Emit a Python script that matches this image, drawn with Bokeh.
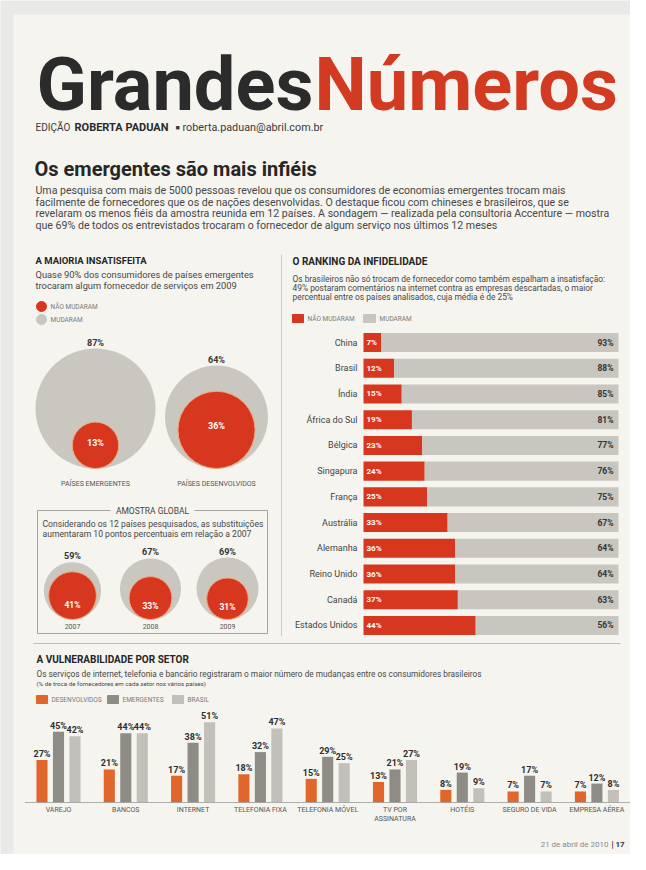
import math
from bokeh.plotting import figure
from bokeh.models import Range1d, ColumnDataSource
from bokeh.core.properties import value
from bokeh.transform import dodge
from bokeh.embed import file_html
from bokeh.resources import INLINE

# ---------------- data ----------------
maioria_groups = ["PAÍSES EMERGENTES", "PAÍSES DESENVOLVIDOS"]
maioria_mudaram = [87, 64]
maioria_nao_mudaram = [13, 36]

global_years = ["2007", "2008", "2009"]
global_mudaram = [59, 67, 69]
global_nao_mudaram = [41, 33, 31]

ranking_countries = ["China", "Brasil", "Índia", "África do Sul", "Bélgica", "Singapura",
                     "França", "Austrália", "Alemanha", "Reino Unido", "Canadá", "Estados Unidos"]
ranking_nao_mudaram = [7, 12, 15, 19, 23, 24, 25, 33, 36, 36, 37, 44]
ranking_mudaram = [93, 88, 85, 81, 77, 76, 75, 67, 64, 64, 63, 56]

setores = ["VAREJO", "BANCOS", "INTERNET", "TELEFONIA FIXA", "TELEFONIA MÓVEL",
           "TV POR\nASSINATURA", "HOTÉIS", "SEGURO DE VIDA", "EMPRESA AÉREA"]
setor_desenvolvidos = [27, 21, 17, 18, 15, 13, 8, 7, 7]
setor_emergentes = [45, 44, 38, 32, 29, 21, 19, 17, 12]
setor_brasil = [42, 44, 51, 47, 25, 27, 9, 7, 8]

# ---------------- style ----------------
FONT = "Roboto"
PAPER = "#f5f4ef"
OUTER = "#e9e9e8"
DARK = "#262626"
BODY = "#474747"
LIGHT = "#7a7a7a"
RED = "#d7371f"
TITLE_RED = "#d33a22"
GRAY_C = "#cac7c1"
GRAY_BAR = "#c9c5bf"
ORANGE = "#e0662b"
EMERG = "#8f8b85"
BRASIL = "#c3c0ba"

p = figure(width=630, height=854, x_range=Range1d(0, 630), y_range=Range1d(854, 0),
           x_axis_location=None, y_axis_location=None, toolbar_location=None,
           output_backend="svg", min_border=0)
p.grid.visible = False
p.outline_line_color = None
p.background_fill_color = OUTER
p.border_fill_color = OUTER

# paper
p.quad(left=13, right=641, top=14, bottom=866, fill_color=PAPER, line_color=None)


def T(x, y, s, size, color=DARK, bold=False, align="left", baseline="middle", tgt=None):
    (tgt or p).text(x=[x], y=[y], text=[s], text_font=value(FONT),
                    text_font_size=f"{size}px",
                    text_font_style="bold" if bold else "normal",
                    text_color=color, text_align=align, text_baseline=baseline)


# ---------------- header ----------------
T(313, 84, "Grandes", 74, "#2b2b2b", True, "right")
T(314, 84, "Números", 74, TITLE_RED, True, "left")

T(35, 127, "EDIÇÃO", 10, "#3a3a3a")
T(74, 127, "ROBERTA PADUAN", 11, "#2a2a2a", True)
T(175, 127, "■", 7, "#3a3a3a")
T(182, 127, "roberta.paduan@abril.com.br", 10.8, "#3a3a3a")

T(34, 168, "Os emergentes são mais infiéis", 20, DARK, True)
body_lines = [
    "Uma pesquisa com mais de 5000 pessoas revelou que os consumidores de economias emergentes trocam mais",
    "facilmente de fornecedores que os de nações desenvolvidas. O destaque ficou com chineses e brasileiros, que se",
    "revelaram os menos fiéis da amostra reunida em 12 países. A sondagem — realizada pela consultoria Accenture — mostra",
    "que 69% de todos os entrevistados trocaram o fornecedor de algum serviço nos últimos 12 meses",
]
for i, ln in enumerate(body_lines):
    T(35, 190 + 11.5 * i, ln, 10.6, BODY)

# ---------------- left: a maioria insatisfeita ----------------
T(35, 260, "A MAIORIA INSATISFEITA", 9.5, DARK, True)
T(35, 274, "Quase 90% dos consumidores de países emergentes", 9.3, BODY)
T(35, 285, "trocaram algum fornecedor de serviços em 2009", 9.3, BODY)
p.scatter(x=[41], y=[306], size=10, color=RED)
T(50, 306, "NÃO MUDARAM", 6.5, LIGHT)
p.scatter(x=[41], y=[319], size=10, color=GRAY_C)
T(50, 319, "MUDARAM", 6.5, LIGHT)

K1 = 60 / math.sqrt(87)
maioria_x = [95, 216]
B1 = 468
ro = [K1 * math.sqrt(v) for v in maioria_mudaram]
ri = [K1 * math.sqrt(v) for v in maioria_nao_mudaram]
src1 = ColumnDataSource(dict(
    x=maioria_x, ro=ro, ri=ri,
    yo=[B1 - r for r in ro], yi=[B1 - r for r in ri],
    ytop=[B1 - 2 * r - 6 for r in ro], yin=[B1 - r * 1.1 for r in ri],
    lo=[f"{v}%" for v in maioria_mudaram], li=[f"{v}%" for v in maioria_nao_mudaram],
    g=maioria_groups))
p.circle(x="x", y="yo", radius="ro", source=src1, fill_color=GRAY_C, line_color=None)
p.circle(x="x", y="yi", radius="ri", source=src1, fill_color=RED, line_color="#f2a77e", line_width=1)
p.text(x="x", y="ytop", text="lo", source=src1, text_font=value(FONT), text_font_size="9px",
       text_font_style="bold", text_color="#333333", text_align="center", text_baseline="middle")
p.text(x="x", y="yin", text="li", source=src1, text_font=value(FONT), text_font_size="9px",
       text_font_style="bold", text_color="#ffffff", text_align="center", text_baseline="middle")
p.text(x="x", y=483, text="g", source=src1, text_font=value(FONT), text_font_size="7px",
       text_color="#555555", text_align="center", text_baseline="middle")

# amostra global box
p.multi_line(xs=[[110, 37, 37, 267, 267, 194]], ys=[[510, 510, 633, 633, 510, 510]],
             line_color="#a3a3a3", line_width=1)
T(152, 510, "AMOSTRA GLOBAL", 8.5, "#444444", False, "center")
T(42, 523, "Considerando os 12 países pesquisados, as substituições", 8.6, BODY)
T(42, 533, "aumentaram 10 pontos percentuais em relação a 2007", 8.6, BODY)

K2 = 31 / math.sqrt(69)
global_x = [72, 150, 227]
B2 = 619
go = [K2 * math.sqrt(v) for v in global_mudaram]
gi = [K2 * math.sqrt(v) for v in global_nao_mudaram]
src2 = ColumnDataSource(dict(
    x=global_x, ro=go, ri=gi,
    yo=[B2 - r for r in go], yi=[B2 - r for r in gi],
    ytop=[B2 - 2 * r - 6 for r in go], yin=[B2 - r * 0.62 for r in gi],
    lo=[f"{v}%" for v in global_mudaram], li=[f"{v}%" for v in global_nao_mudaram],
    g=global_years))
p.circle(x="x", y="yo", radius="ro", source=src2, fill_color=GRAY_C, line_color=None)
p.circle(x="x", y="yi", radius="ri", source=src2, fill_color=RED, line_color="#f2a77e", line_width=1)
p.text(x="x", y="ytop", text="lo", source=src2, text_font=value(FONT), text_font_size="9px",
       text_font_style="bold", text_color="#333333", text_align="center", text_baseline="middle")
p.text(x="x", y="yin", text="li", source=src2, text_font=value(FONT), text_font_size="8.5px",
       text_font_style="bold", text_color="#ffffff", text_align="center", text_baseline="middle")
p.text(x="x", y=626, text="g", source=src2, text_font=value(FONT), text_font_size="7px",
       text_color="#555555", text_align="center", text_baseline="middle")

# divider
p.segment(x0=[281], y0=[254], x1=[281], y1=[636], line_color="#cdcdcd", line_width=1)

# ---------------- right: ranking ----------------
T(292, 261, "O RANKING DA INFIDELIDADE", 10, DARK, True)
T(292, 278, "Os brasileiros não só trocam de fornecedor como também espalham a insatisfação:", 8.4, BODY)
T(292, 287, "49% postaram comentários na internet contra as empresas descartadas, o maior", 8.4, BODY)
T(292, 296, "percentual entre os países analisados, cuja média é de 25%", 8.4, BODY)
p.quad(left=[292], right=[303], top=[314], bottom=[322], color=RED)
T(307, 318, "NÃO MUDARAM", 6.5, LIGHT)
p.quad(left=[363], right=[375], top=[314], bottom=[322], color=GRAY_BAR)
T(379, 318, "MUDARAM", 6.5, LIGHT)

n = len(ranking_countries)
rank = p.subplot(x_source=Range1d(0, 100), y_source=Range1d(-0.5, n - 0.5),
                 x_target=Range1d(363, 618), y_target=Range1d(329.14, 637.86))
src3 = ColumnDataSource(dict(
    idx=list(range(n)), country=ranking_countries,
    nao=ranking_nao_mudaram,
    end=[a + b for a, b in zip(ranking_nao_mudaram, ranking_mudaram)],
    ln=[f"{v}%" for v in ranking_nao_mudaram], lm=[f"{v}%" for v in ranking_mudaram]))
rank.hbar(y="idx", left=0, right="nao", height=0.74, source=src3, fill_color=RED,
          line_color=None)
rank.hbar(y="idx", left="nao", right="end", height=0.74, source=src3, fill_color=GRAY_BAR,
          line_color=None)
rank.text(x=0, y="idx", text="country", source=src3, x_offset=-6, text_font=value(FONT),
          text_font_size="9px", text_color="#444444", text_align="right", text_baseline="middle")
rank.text(x=0, y="idx", text="ln", source=src3, x_offset=3, text_font=value(FONT),
          text_font_size="8px", text_font_style="bold", text_color="#ffffff",
          text_align="left", text_baseline="middle")
rank.text(x="end", y="idx", text="lm", source=src3, x_offset=-5, text_font=value(FONT),
          text_font_size="8.5px", text_font_style="bold", text_color="#333333",
          text_align="right", text_baseline="middle")

# ---------------- bottom: vulnerabilidade ----------------
p.segment(x0=[33], y0=[643], x1=[620], y1=[643], line_color="#bdbdbd", line_width=1)
T(36, 659, "A VULNERABILIDADE POR SETOR", 10, DARK, True)
T(36, 673, "Os serviços de internet, telefonia e bancário registraram o maior número de mudanças entre os consumidores brasileiros", 8.3, BODY)
T(36, 683, "(% de troca de fornecedores em cada setor nos vários países)", 6.2, BODY)
p.quad(left=[36], right=[47], top=[695], bottom=[703], color=ORANGE)
T(51, 699, "DESENVOLVIDOS", 6.5, LIGHT)
p.quad(left=[107], right=[118], top=[695], bottom=[703], color=EMERG)
T(122, 699, "EMERGENTES", 6.5, LIGHT)
p.quad(left=[172], right=[183], top=[695], bottom=[703], color=BRASIL)
T(187, 699, "BRASIL", 6.5, LIGHT)

m = len(setores)
sec = p.subplot(x_source=Range1d(-0.5, m - 0.5), y_source=Range1d(0, 100),
                x_target=Range1d(24.35, 630.05), y_target=Range1d(802, 644.5))
src4 = ColumnDataSource(dict(
    i=list(range(m)), setor=setores,
    d=setor_desenvolvidos, e=setor_emergentes, b=setor_brasil,
    ld=[f"{v}%" for v in setor_desenvolvidos], le=[f"{v}%" for v in setor_emergentes],
    lb=[f"{v}%" for v in setor_brasil]))
OFF = 0.245
W = 0.165
for col, lab, off, color in [("d", "ld", -OFF, ORANGE), ("e", "le", 0.0, EMERG), ("b", "lb", OFF, BRASIL)]:
    sec.vbar(x=dodge("i", off), top=col, bottom=0, width=W, source=src4,
             fill_color=color, line_color=None)
    sec.text(x=dodge("i", off), y=col, text=lab, source=src4, y_offset=-1,
             text_font=value(FONT), text_font_size="9px", text_font_style="bold",
             text_color="#2e2e2e", text_align="center", text_baseline="bottom")
sec.segment(x0=[-0.5], y0=[0], x1=[m - 0.5], y1=[0], line_color="#9c9c9c", line_width=0.8)
sec.text(x="i", y=0, text="setor", source=src4, y_offset=3, text_font=value(FONT),
         text_font_size="7px", text_color="#555555", text_align="center",
         text_baseline="top", text_line_height=1.2)

# footer
T(608, 844, "21 de abril de 2010", 8, "#8a8a8a", False, "right")
T(611, 844, "|", 8.5, "#333333", True, "left")
T(615, 844, "17", 8, "#333333", True, "left")

open("out.html", "w").write(file_html(p, INLINE))
